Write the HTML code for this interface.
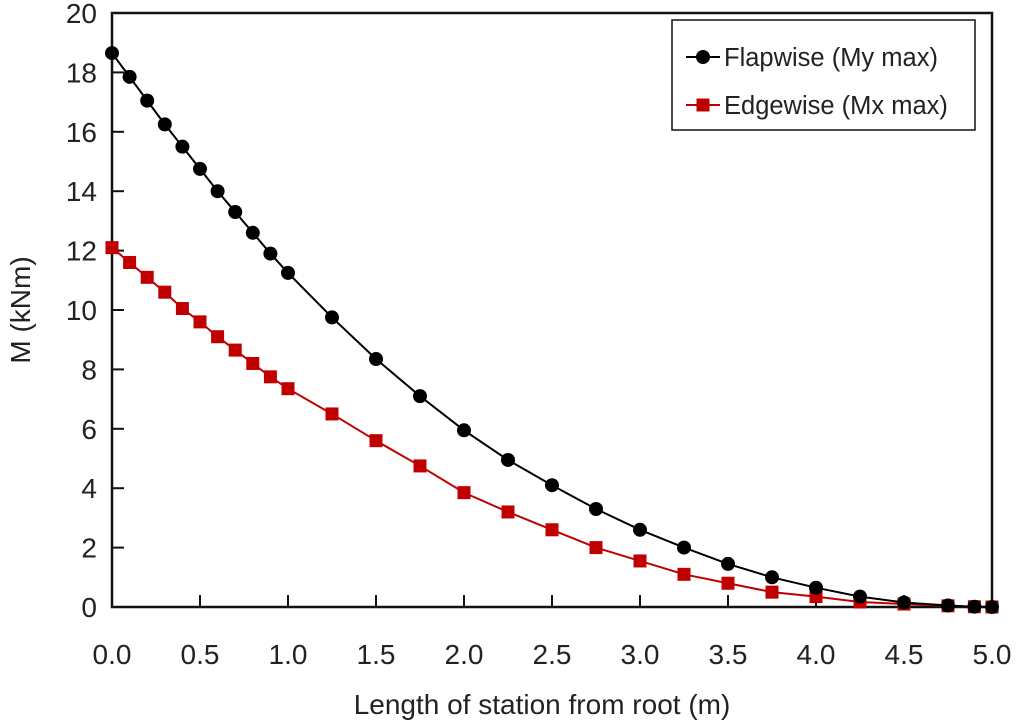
<!DOCTYPE html>
<html><head><meta charset="utf-8"><style>
body{margin:0;background:#fff}
svg text{font-family:"Liberation Sans",sans-serif;fill:#222}
</style></head><body>
<svg width="1017" height="723" id="c"></svg>
<script>
const xs=[0,0.1,0.2,0.3,0.4,0.5,0.6,0.7,0.8,0.9,1.0,1.25,1.5,1.75,2.0,2.25,2.5,2.75,3.0,3.25,3.5,3.75,4.0,4.25,4.5,4.75,4.9,5.0];
const flapwise=[18.65,17.85,17.05,16.25,15.5,14.75,14.0,13.3,12.6,11.9,11.25,9.75,8.35,7.1,5.95,4.95,4.1,3.3,2.6,2.0,1.45,1.0,0.65,0.35,0.15,0.05,0.01,0];
const edgewise=[12.1,11.6,11.1,10.6,10.05,9.6,9.1,8.65,8.2,7.75,7.35,6.5,5.6,4.75,3.85,3.2,2.6,2.0,1.55,1.1,0.8,0.5,0.35,0.17,0.1,0.04,0.01,0];
const xTicks=["0.0","0.5","1.0","1.5","2.0","2.5","3.0","3.5","4.0","4.5","5.0"];
const yTicks=["0","2","4","6","8","10","12","14","16","18","20"];
const L=112,R=992,T=13,B=607;
const sx=v=>L+(v/5)*(R-L), sy=v=>B-(v/20)*(B-T);
const svg=document.getElementById('c');const NS='http://www.w3.org/2000/svg';
function mk(t,a,p){const e=document.createElementNS(NS,t);for(const k in a)e.setAttribute(k,a[k]);(p||svg).appendChild(e);return e;}
let e=mk('rect',{x:L,y:T,width:R-L,height:B-T,fill:'none',stroke:'#111','stroke-width':2.5});


xTicks.forEach(t=>{const x=sx(+t);
 let l=mk('line',{x1:x,x2:x,y1:B,y2:B-12,stroke:'#111','stroke-width':2});
 
 
 let tx=mk('text',{x:x,y:B+57,'font-size':28,'text-anchor':'middle'});tx.textContent=t;
 
 });
yTicks.forEach(t=>{const y=sy(+t);
 let l=mk('line',{x1:L,x2:L+12,y1:y,y2:y,stroke:'#111','stroke-width':2});
 
 
 let tx=mk('text',{x:L-15,y:y+10,'font-size':28,'text-anchor':'end'});tx.textContent=t;
 
 });
let xt=mk('text',{x:542,y:714,'font-size':28,'text-anchor':'middle'});xt.textContent='Length of station from root (m)';


let yt=mk('text',{x:0,y:0,'font-size':28,'text-anchor':'middle',transform:'translate(30,310) rotate(-90)'});yt.textContent='M (kNm)';


function series(vals,color,shape,name){
 const g=mk('g',{});
 
 
 const pl=mk('polyline',{points:xs.map((x,i)=>sx(x)+','+sy(vals[i])).join(' '),fill:'none',stroke:color,'stroke-width':2},g);
 
 
 xs.forEach((x,i)=>{let m=shape==='c'?mk('circle',{cx:sx(x),cy:sy(vals[i]),r:7,fill:color},g):mk('rect',{x:sx(x)-6.5,y:sy(vals[i])-6.5,width:13,height:13,fill:color},g);
  
  });
}
series(edgewise,'#c00000','s','edgewise');
series(flapwise,'#000','c','flapwise');
const lg=mk('g',{});


mk('rect',{x:672,y:20,width:303,height:110,fill:'#fff',stroke:'#111','stroke-width':1.5},lg);
mk('line',{x1:686,x2:720,y1:57,y2:57,stroke:'#000','stroke-width':2},lg);
mk('circle',{cx:703,cy:57,r:7,fill:'#000'},lg);
let t1=mk('text',{x:724,y:66,'font-size':25.5},lg);t1.textContent='Flapwise (My max)';


mk('line',{x1:686,x2:720,y1:105,y2:105,stroke:'#c00000','stroke-width':2},lg);
mk('rect',{x:696.5,y:98.5,width:13,height:13,fill:'#c00000'},lg);
let t2=mk('text',{x:724,y:114,'font-size':25.5},lg);t2.textContent='Edgewise (Mx max)';


</script>
</body></html>
